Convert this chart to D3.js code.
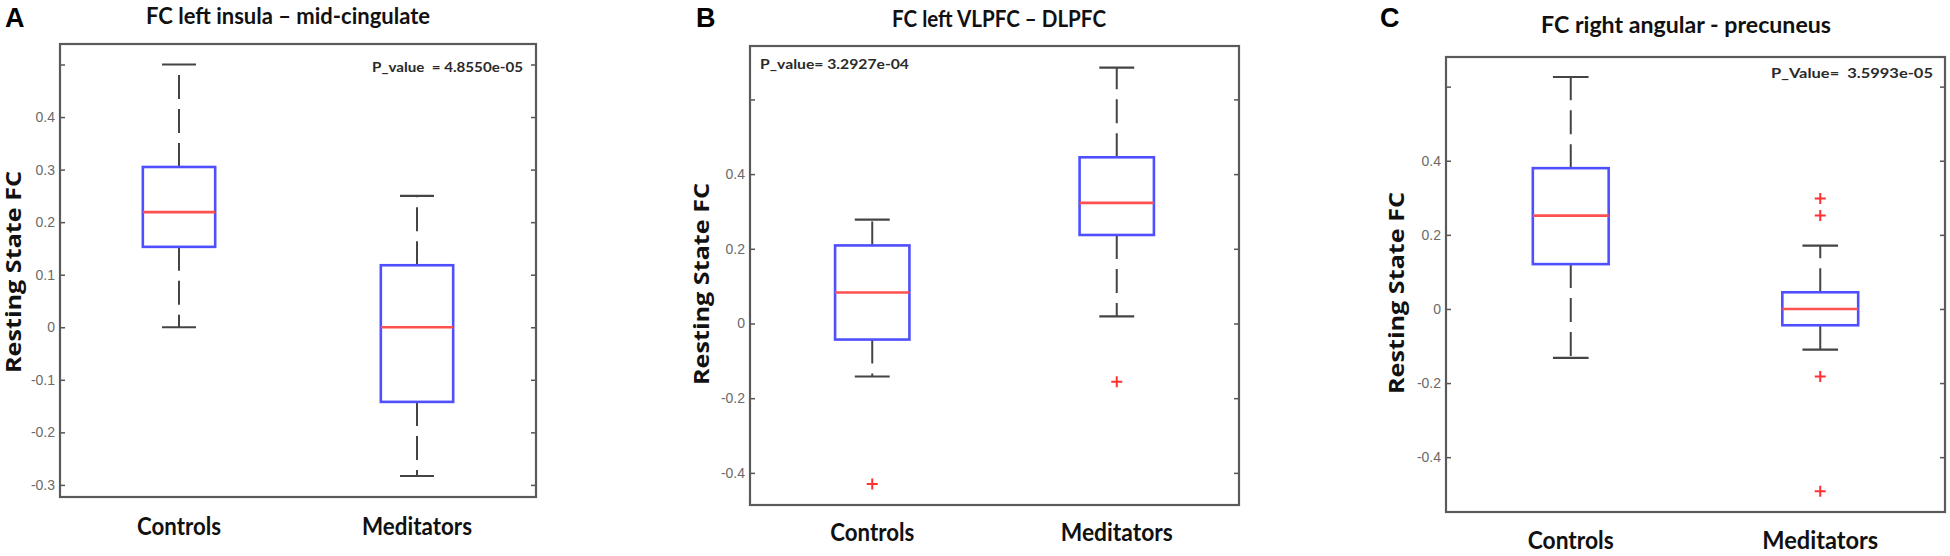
<!DOCTYPE html>
<meta charset="utf-8">
<style>
body { margin: 0; background: #fff; }
.axis text { font-family: "Liberation Sans", Arial, sans-serif; font-size: 14px; fill: #6a6a6a; }
.axis line { stroke: #555; stroke-width: 1.5; }
.title { font-family: Lato, sans-serif; font-weight: bold; font-size: 22px; fill: #111; }
.xlabel { font-family: Lato, sans-serif; font-weight: bold; font-size: 25px; fill: #111; }
.ylabel { font-family: "Open Sans", sans-serif; font-weight: bold; font-size: 21px; fill: #111; }
.letter { font-family: "Liberation Sans", Arial, sans-serif; font-weight: bold; font-size: 27px; fill: #000; }
.pval { font-family: Lato, sans-serif; font-weight: bold; font-size: 14px; fill: #2a2a2a; }
</style>
<body>
<script src="https://cdn.jsdelivr.net/npm/d3@7"></script>
<script>

// data
var panelLetters = ["A", "B", "C"];
var panelTitles = ["FC left insula \u2013 mid-cingulate", "FC left VLPFC \u2013 DLPFC", "FC right angular - precuneus"];
var groups = ["Controls", "Meditators"];
var pValueLabels = ["P_value  = 4.8550e-05", "P_value= 3.2927e-04", "P_Value=  3.5993e-05"];
var yTitle = "Resting State FC";

// box stats per panel: [Controls, Meditators]
var whiskerHigh = [[0.50, 0.25], [0.278, 0.685], [0.626, 0.171]];
var upperQuartile = [[0.305, 0.118], [0.209, 0.445], [0.380, 0.045]];
var medians = [[0.219, 0.0], [0.083, 0.323], [0.252, 0.0]];
var lowerQuartile = [[0.153, -0.142], [-0.043, 0.237], [0.121, -0.044]];
var whiskerLow = [[0.0, -0.283], [-0.142, 0.019], [-0.132, -0.110]];
var outliers = [[[], []], [[-0.43], [-0.156]], [[], [0.298, 0.252, -0.182, -0.492]]];

var yDomains = [[-0.323, 0.539], [-0.486, 0.743], [-0.548, 0.68]];
var tickValues = [[-0.3, -0.2, -0.1, 0, 0.1, 0.2, 0.3, 0.4, 0.5], [-0.4, -0.2, 0, 0.2, 0.4, 0.6], [-0.4, -0.2, 0, 0.2, 0.4, 0.6]];
var tickLabels = [["-0.3", "-0.2", "-0.1", "0", "0.1", "0.2", "0.3", "0.4", ""],
                  ["-0.4", "-0.2", "0", "0.2", "0.4", ""],
                  ["-0.4", "-0.2", "0", "0.2", "0.4", ""]];

// layout of each panel
var frames = [
  {left: 60, right: 536, top: 44, bottom: 497, titleX: 288, titleY: 24, letterX: 5, ylabX: 21, ylabY: 272, xlabY: 535, pX: 523, pY: 72, pAnchor: "end", titleW: 284, pW: 151},
  {left: 750, right: 1239, top: 46, bottom: 505, titleX: 999, titleY: 27, letterX: 696, ylabX: 709, ylabY: 284, xlabY: 541, pX: 760, pY: 69, pAnchor: "start", titleW: 214, pW: 149},
  {left: 1446, right: 1945, top: 57, bottom: 512, titleX: 1686, titleY: 33, letterX: 1380, ylabX: 1404, ylabY: 293, xlabY: 549, pX: 1933, pY: 78, pAnchor: "end", titleW: 290, pW: 162}
];
var xLabelWidths = [[84, 110], [84, 112], [86, 116]];

var svg = d3.select("body").append("svg")
    .attr("width", 1950)
    .attr("height", 556);

svg.append("rect").attr("width", 1950).attr("height", 556).attr("fill", "#fff");

panelLetters.forEach(function(letter, i) {
  var f = frames[i];
  var g = svg.append("g");

  var x = d3.scalePoint().domain(groups).range([f.left, f.right]).padding(0.5);
  var y = d3.scaleLinear().domain(yDomains[i]).range([f.bottom, f.top]);
  var boxW = (f.right - f.left) * 0.152;
  var capW = boxW * 0.47;

  var left = g.append("g")
      .attr("class", "axis")
      .attr("transform", "translate(" + f.left + ",0)")
      .call(d3.axisLeft(y)
        .tickValues(tickValues[i])
        .tickFormat(function(d) { return tickLabels[i][tickValues[i].indexOf(d)]; })
        .tickSizeInner(-5).tickSizeOuter(0).tickPadding(5));
  left.attr("font-size", null).attr("font-family", null);
  left.select(".domain").remove();

  var right = g.append("g")
      .attr("class", "axis")
      .attr("transform", "translate(" + f.right + ",0)")
      .call(d3.axisRight(y).tickValues(tickValues[i]).tickFormat("").tickSizeInner(-5).tickSizeOuter(0));
  right.select(".domain").remove();

  g.append("rect")
      .attr("x", f.left).attr("y", f.top)
      .attr("width", f.right - f.left).attr("height", f.bottom - f.top)
      .attr("fill", "none").attr("stroke", "#5a5a5a").attr("stroke-width", 2.2);

  var rows = groups.map(function(grp, j) {
    return {grp: grp, hi: whiskerHigh[i][j], q3: upperQuartile[i][j], med: medians[i][j],
            q1: lowerQuartile[i][j], lo: whiskerLow[i][j], out: outliers[i][j]};
  });

  var box = g.selectAll(".box").data(rows).enter().append("g").attr("class", "box");

  // dashed whiskers, drawn outward from the box
  box.append("line")
      .attr("x1", function(d) { return x(d.grp); }).attr("x2", function(d) { return x(d.grp); })
      .attr("y1", function(d) { return y(d.q3); }).attr("y2", function(d) { return y(d.hi); })
      .attr("stroke", "#444").attr("stroke-width", 2).attr("stroke-dasharray", "24,10");
  box.append("line")
      .attr("x1", function(d) { return x(d.grp); }).attr("x2", function(d) { return x(d.grp); })
      .attr("y1", function(d) { return y(d.q1); }).attr("y2", function(d) { return y(d.lo); })
      .attr("stroke", "#444").attr("stroke-width", 2).attr("stroke-dasharray", "24,10");

  ["hi", "lo"].forEach(function(k) {
    box.append("line")
        .attr("x1", function(d) { return x(d.grp) - capW / 2; })
        .attr("x2", function(d) { return x(d.grp) + capW / 2; })
        .attr("y1", function(d) { return y(d[k]); }).attr("y2", function(d) { return y(d[k]); })
        .attr("stroke", "#444").attr("stroke-width", 2.2);
  });

  box.append("rect")
      .attr("x", function(d) { return x(d.grp) - boxW / 2; })
      .attr("y", function(d) { return y(d.q3); })
      .attr("width", boxW)
      .attr("height", function(d) { return y(d.q1) - y(d.q3); })
      .attr("fill", "none").attr("stroke", "#4f4fff").attr("stroke-width", 2.6);

  box.append("line")
      .attr("x1", function(d) { return x(d.grp) - boxW / 2; })
      .attr("x2", function(d) { return x(d.grp) + boxW / 2; })
      .attr("y1", function(d) { return y(d.med); }).attr("y2", function(d) { return y(d.med); })
      .attr("stroke", "#ff5050").attr("stroke-width", 2.6);

  box.selectAll(".out")
      .data(function(d) { return d.out.map(function(v) { return {grp: d.grp, v: v}; }); })
    .enter().append("path")
      .attr("class", "out")
      .attr("transform", function(d) { return "translate(" + x(d.grp) + "," + y(d.v) + ")"; })
      .attr("d", "M-5.5,0H5.5M0,-5.5V5.5")
      .attr("stroke", "#ff3030").attr("stroke-width", 2);

  // texts
  g.append("text").attr("class", "letter")
      .attr("x", f.letterX).attr("y", 27).text(letter);

  g.append("text").attr("class", "title")
      .attr("x", f.titleX).attr("y", f.titleY)
      .attr("text-anchor", "middle")
      .attr("textLength", f.titleW).attr("lengthAdjust", "spacingAndGlyphs")
      .text(panelTitles[i]);

  g.append("text").attr("class", "ylabel")
      .attr("transform", "translate(" + f.ylabX + "," + f.ylabY + ") rotate(-90)")
      .attr("text-anchor", "middle")
      .attr("textLength", 202).attr("lengthAdjust", "spacingAndGlyphs")
      .text(yTitle);

  g.selectAll(".xlabel").data(groups).enter().append("text")
      .attr("class", "xlabel")
      .attr("x", function(d) { return x(d); })
      .attr("y", f.xlabY)
      .attr("text-anchor", "middle")
      .attr("textLength", function(d, j) { return xLabelWidths[i][j]; })
      .attr("lengthAdjust", "spacingAndGlyphs")
      .text(function(d) { return d; });

  g.append("text").attr("class", "pval")
      .attr("x", f.pX).attr("y", f.pY)
      .attr("text-anchor", f.pAnchor)
      .attr("textLength", f.pW).attr("lengthAdjust", "spacingAndGlyphs")
      .style("white-space", "pre")
      .text(pValueLabels[i]);
});

</script>
</body>
